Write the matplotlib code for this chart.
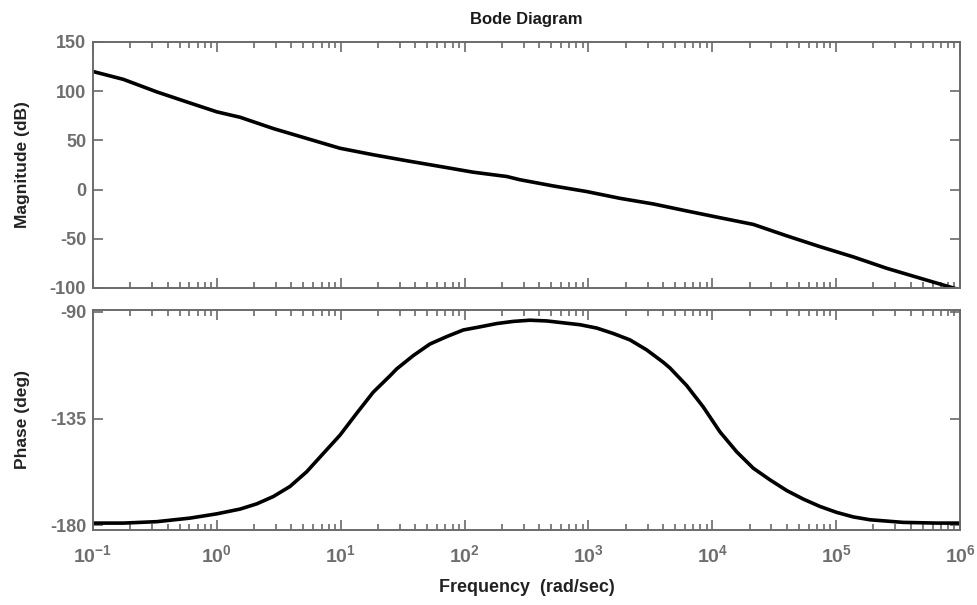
import matplotlib
matplotlib.use('Agg')
import matplotlib.pyplot as plt
from matplotlib.ticker import FixedLocator, FixedFormatter, LogLocator, NullFormatter

plt.rcParams['font.family'] = ['Liberation Sans', 'DejaVu Sans']
plt.rcParams['mathtext.fontset'] = 'custom'
plt.rcParams['mathtext.rm'] = 'Liberation Sans:bold'
plt.rcParams['mathtext.bf'] = 'Liberation Sans:bold'

# magnitude response (rad/sec, dB)
w_mag = [0.1, 0.176, 0.327, 0.607, 1.0, 1.54, 2.86, 5.31, 9.86, 18.3, 34.1,
         63.4, 117, 219, 280, 520, 968, 1800, 3340, 6210, 11530, 21430,
         39900, 74000, 137500, 256000, 475000, 830000, 1000000]
mag_db = [120, 112, 99.3, 88, 79, 73.5, 62, 52, 42, 35.4, 29.3,
          23.5, 17.7, 13.3, 10, 3.7, -2, -8.9, -14.6, -21.7, -28.6, -35.4,
          -47, -58, -68.4, -80, -90, -99, -102]

# phase response (rad/sec, deg)
w_phase = [0.1, 0.176, 0.327, 0.607, 1.0, 1.54, 2.10, 2.86, 3.89, 5.31, 7.23,
           9.86, 13.4, 18.3, 25.0, 28.3, 38.5, 52.6, 71.7, 97.7, 133, 182,
           247, 337, 460, 627, 855, 1167, 1589, 2167, 2954, 4018, 4550,
           6210, 8450, 11530, 15740, 21430, 29240, 39900, 54300, 74000,
           101000, 137500, 187500, 348000, 648000, 1000000]
phase_deg = [-179.0, -179.0, -178.4, -176.9, -175.1, -173.1, -170.9, -167.8,
             -163.6, -157.4, -149.7, -142.0, -132.9, -123.9, -117.0, -114.1,
             -108.5, -103.6, -100.5, -97.7, -96.4, -95.0, -94.1, -93.6, -93.9,
             -94.7, -95.5, -96.9, -99.2, -101.9, -106.1, -111.3, -113.7,
             -121.1, -130.1, -140.6, -149.0, -155.9, -160.8, -165.3, -168.9,
             -172.0, -174.5, -176.4, -177.6, -178.7, -179.0, -179.0]

mag_ticks = [-100, -50, 0, 50, 100, 150]
phase_ticks = [-180, -135, -90]
decades = [-1, 0, 1, 2, 3, 4, 5, 6]

spine_gray = '#6a6a6a'
label_gray = '#6e6e6e'

fig = plt.figure(figsize=(9.78, 6.05), dpi=100)
ax_mag = fig.add_axes([0.0951, 0.5240, 0.8865, 0.4066])
ax_ph = fig.add_axes([0.0951, 0.1240, 0.8865, 0.3636])

ax_mag.plot(w_mag, mag_db, color='black', lw=2.6, solid_capstyle='butt')
ax_ph.plot(w_phase, phase_deg, color='black', lw=2.6, solid_capstyle='butt')

for ax in (ax_mag, ax_ph):
    ax.set_xscale('log')
    ax.set_xlim(1e-1, 1e6)
    ax.xaxis.set_major_locator(FixedLocator([10.0 ** d for d in decades]))
    ax.xaxis.set_minor_locator(LogLocator(base=10, subs=range(2, 10), numticks=20))
    ax.xaxis.set_minor_formatter(NullFormatter())
    ax.tick_params(which='both', direction='in', top=True, right=True,
                   color=spine_gray, width=1.2)
    ax.tick_params(which='major', length=7)
    ax.tick_params(which='minor', length=4)
    ax.tick_params(axis='y', labelsize=13, labelcolor=label_gray, pad=5)
    for s in ax.spines.values():
        s.set_color(spine_gray)
        s.set_linewidth(1.4)

ax_mag.set_ylim(-100, 150)
ax_mag.set_yticks(mag_ticks)
ax_mag.set_yticklabels([str(t) for t in mag_ticks], fontweight='bold')
ax_mag.xaxis.set_major_formatter(NullFormatter())

ax_ph.set_ylim(-181.9, -89.3)
ax_ph.set_yticks(phase_ticks)
ax_ph.set_yticklabels([str(t) for t in phase_ticks], fontweight='bold')
ax_ph.xaxis.set_major_formatter(FixedFormatter([r'$\mathrm{10^{%d}}$' % d for d in decades]))
ax_ph.tick_params(axis='x', labelsize=14, labelcolor=label_gray, pad=10)

ax_mag.set_title('Bode Diagram', fontsize=12, fontweight='bold', color='#1a1a1a', pad=13)
ax_mag.set_ylabel('Magnitude (dB)', fontsize=12.5, fontweight='bold', color='#222222')
ax_mag.yaxis.set_label_coords(-0.073, 0.5)
ax_ph.set_ylabel('Phase (deg)', fontsize=12.5, fontweight='bold', color='#222222')
ax_ph.yaxis.set_label_coords(-0.073, 0.5)
ax_ph.set_xlabel('Frequency  (rad/sec)', fontsize=13, fontweight='bold', color='#222222')
ax_ph.xaxis.set_label_coords(0.5, -0.225)

fig.savefig('out.png', dpi=100)
